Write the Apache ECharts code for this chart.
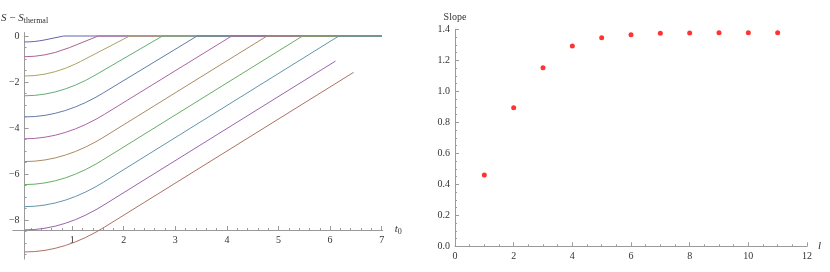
<!DOCTYPE html>
<html><head><meta charset="utf-8">
<script src="https://cdn.jsdelivr.net/npm/echarts@6/dist/echarts.min.js"></script>
<style>html,body{margin:0;padding:0;background:#fff}#c{width:830px;height:272px}</style>
</head><body><div id="c"></div>
<script>
// ---- Left panel: S - S_thermal vs t0, one curve per l = 1..11 ([t0, value] pairs) ----
const curve1 = [[0,-0.26],[0.1,-0.254],[0.2,-0.237],[0.3,-0.208],[0.4,-0.168],[0.765,0],[7,0]];
const curve2 = [[0,-0.9],[0.2,-0.88],[0.4,-0.818],[0.6,-0.716],[0.875,-0.509],[1.444,0],[7,0]];
const curve3 = [[0,-1.74],[0.2,-1.719],[0.4,-1.656],[0.6,-1.551],[0.8,-1.403],[1.0,-1.214],[1.095,-1.11],[2.058,0],[7,0]];
const curve4 = [[0,-2.6],[0.2,-2.581],[0.4,-2.525],[0.6,-2.432],[0.8,-2.3],[1.0,-2.132],[1.2,-1.926],[1.381,-1.707],[2.703,0],[7,0]];
const curve5 = [[0,-3.52],[0.2,-3.502],[0.4,-3.45],[0.6,-3.362],[0.8,-3.239],[1.0,-3.081],[1.2,-2.888],[1.4,-2.66],[1.533,-2.488],[3.382,0],[7,0]];
const curve6 = [[0,-4.47],[0.2,-4.453],[0.4,-4.4],[0.6,-4.314],[0.8,-4.192],[1.0,-4.036],[1.2,-3.844],[1.4,-3.618],[1.571,-3.398],[4.06,0],[7,0]];
const curve7 = [[0,-5.46],[0.2,-5.442],[0.4,-5.389],[0.6,-5.301],[0.8,-5.177],[1.0,-5.019],[1.2,-4.824],[1.4,-4.595],[1.556,-4.391],[4.752,0],[7,0]];
const curve8 = [[0,-6.46],[0.2,-6.442],[0.4,-6.387],[0.6,-6.296],[0.8,-6.168],[1.0,-6.004],[1.2,-5.804],[1.4,-5.567],[1.51,-5.421],[5.45,0],[7,0]];
const curve9 = [[0,-7.42],[0.2,-7.402],[0.4,-7.349],[0.6,-7.26],[0.8,-7.136],[1.0,-6.976],[1.2,-6.78],[1.4,-6.549],[1.55,-6.352],[6.16,0],[7,0]];
const curve10 = [[0,-8.43],[0.2,-8.412],[0.4,-8.358],[0.6,-8.269],[0.8,-8.143],[1.0,-7.982],[1.2,-7.784],[1.4,-7.551],[1.537,-7.371],[6.095,-1.09]];
const curve11 = [[0,-9.39],[0.2,-9.372],[0.4,-9.32],[0.6,-9.231],[0.8,-9.108],[1.0,-8.95],[1.2,-8.756],[1.4,-8.527],[1.565,-8.312],[6.45,-1.58]];

// ---- Right panel: Slope vs l ----
const slopeL = [1,2,3,4,5,6,7,8,9,10,11];
const slopeValues = [0.46,0.894,1.152,1.292,1.346,1.365,1.374,1.376,1.378,1.378,1.378];

// ---- Tick labels ----
const leftXTicks = [1,2,3,4,5,6,7];
const leftXTickLabels = ['1','2','3','4','5','6','7'];
const leftYTicks = [-8,-6,-4,-2,0];
const leftYTickLabels = ['\u22128','\u22126','\u22124','\u22122','0'];
const rightXTickLabels = ['0','2','4','6','8','10','12'];
const rightYTickLabels = ['0.0','0.2','0.4','0.6','0.8','1.0','1.2','1.4'];

const curves = [curve1,curve2,curve3,curve4,curve5,curve6,curve7,curve8,curve9,curve10,curve11];
const curveColors = ['#6564ad','#ad648d','#ada264','#64ad78','#647bad','#ad64a6','#ad8a64','#69ad64','#6494ad','#9d64ad','#ad7164'];

const leftXMinor = [];
for (let i = 1; i <= 35; i++) if (i % 5) leftXMinor.push(+(i * 0.2).toFixed(1));
const leftYMinor = [];
for (let i = -19; i <= 0; i++) if (i % 4) leftYMinor.push(i * 0.5);

const FONT = 'Liberation Serif';
const AX = '#9a9a9a';
const TXT = '#333';
const lbl = {fontFamily: FONT, fontSize: 10, color: TXT};

const chart = echarts.init(document.getElementById('c'), null, {renderer: 'canvas'});
const option = {
  animation: false,
  backgroundColor: '#fff',
  grid: [
    {left: 20.5, top: 32.55, width: 362.2, height: 226.55},
    {left: 12.8, top: 32.55, width: 369.9, height: 197.45},
    {left: 455, top: 29.3, width: 352, height: 217}
  ],
  xAxis: [
    {gridIndex: 0, type: 'value', min: 0, max: 7.02, show: false},
    {gridIndex: 1, type: 'value', min: -0.15, max: 7.02, position: 'bottom',
      axisLine: {onZero: false, lineStyle: {color: AX, width: 1}},
      axisTick: {inside: true, length: 4, customValues: leftXTicks, lineStyle: {color: AX}},
      axisLabel: Object.assign({customValues: leftXTicks, margin: 5,
        formatter: v => leftXTickLabels[leftXTicks.indexOf(v)]}, lbl),
      splitLine: {show: false},
      name: '{it|t}{sub|0}', nameLocation: 'end', nameGap: 12,
      nameTextStyle: {align: 'left', verticalAlign: 'middle', fontFamily: FONT,
        rich: {it: {fontFamily: FONT, fontStyle: 'italic', fontSize: 11, color: TXT, lineHeight: 12, verticalAlign: 'top'},
               sub: {fontFamily: FONT, fontSize: 8, color: TXT, lineHeight: 8, verticalAlign: 'bottom', padding: [6,0,0,0]}}}
    },
    {gridIndex: 1, type: 'value', min: -0.15, max: 7.02, position: 'bottom',
      axisLine: {show: false, onZero: false},
      axisTick: {inside: true, length: 2, customValues: leftXMinor, lineStyle: {color: AX}},
      axisLabel: {show: false}, splitLine: {show: false}},
    {gridIndex: 2, type: 'value', min: 0, max: 12, interval: 2,
      axisLine: {onZero: false, lineStyle: {color: AX}},
      axisTick: {inside: true, length: 4, lineStyle: {color: AX}},
      minorTick: {show: true, splitNumber: 4, length: 2, lineStyle: {color: AX}},
      axisLabel: Object.assign({margin: 5, showMinLabel: true, showMaxLabel: true,
        formatter: v => rightXTickLabels[Math.round(v / 2)]}, lbl),
      splitLine: {show: false}, minorSplitLine: {show: false},
      name: 'l', nameLocation: 'end', nameGap: 9,
      nameTextStyle: {fontFamily: FONT, fontStyle: 'italic', fontSize: 11, color: TXT, align: 'left', verticalAlign: 'middle'}
    }
  ],
  yAxis: [
    {gridIndex: 0, type: 'value', min: -9.7, max: 0.15, position: 'left',
      axisLine: {onZero: false, lineStyle: {color: AX}},
      axisTick: {inside: true, length: 4, customValues: leftYTicks, lineStyle: {color: AX}},
      axisLabel: Object.assign({customValues: leftYTicks, margin: 5,
        formatter: v => leftYTickLabels[leftYTicks.indexOf(v)]}, lbl),
      splitLine: {show: false},
      name: '{it|S}{n| \u2212 }{it|S}{sub|thermal}', nameLocation: 'end', nameGap: 14,
      nameTextStyle: {align: 'center', verticalAlign: 'middle', fontFamily: FONT,
        rich: {it: {fontFamily: FONT, fontStyle: 'italic', fontSize: 11, color: TXT, lineHeight: 12, verticalAlign: 'top'},
               n: {fontFamily: FONT, fontSize: 11, color: TXT, lineHeight: 12, verticalAlign: 'top'},
               sub: {fontFamily: FONT, fontSize: 8, color: TXT, lineHeight: 8, verticalAlign: 'bottom', padding: [6,0,0,0]}}}
    },
    {gridIndex: 0, type: 'value', min: -9.7, max: 0.15, position: 'left',
      axisLine: {show: false, onZero: false},
      axisTick: {inside: true, length: 2, customValues: leftYMinor, lineStyle: {color: AX}},
      axisLabel: {show: false}, splitLine: {show: false}},
    {gridIndex: 1, type: 'value', min: 0, max: 1, show: false},
    {gridIndex: 2, type: 'value', min: 0, max: 1.4, interval: 0.2,
      axisLine: {show: true, onZero: false, lineStyle: {color: AX}},
      axisTick: {show: true, inside: true, length: 4, lineStyle: {color: AX}},
      minorTick: {show: true, splitNumber: 4, length: 2, lineStyle: {color: AX}},
      axisLabel: Object.assign({margin: 5, showMinLabel: true, showMaxLabel: true,
        formatter: v => rightYTickLabels[Math.round(v / 0.2)]}, lbl),
      splitLine: {show: false}, minorSplitLine: {show: false},
      name: 'Slope', nameLocation: 'end', nameGap: 12,
      nameTextStyle: {fontFamily: FONT, fontSize: 10, color: TXT, align: 'center', verticalAlign: 'middle'}
    }
  ],
  series: curves.map((c, i) => ({
    type: 'line', xAxisIndex: 0, yAxisIndex: 0, data: c, showSymbol: false,
    symbol: 'none', clip: false, lineStyle: {width: 1, color: curveColors[i]}, z: 2
  })).concat([{
    type: 'scatter', xAxisIndex: 3, yAxisIndex: 3,
    data: slopeL.map((l, i) => [l, slopeValues[i]]),
    symbol: 'circle', symbolSize: 5, itemStyle: {color: '#ff0000'}
  }])
};
chart.setOption(option);
</script></body></html>
